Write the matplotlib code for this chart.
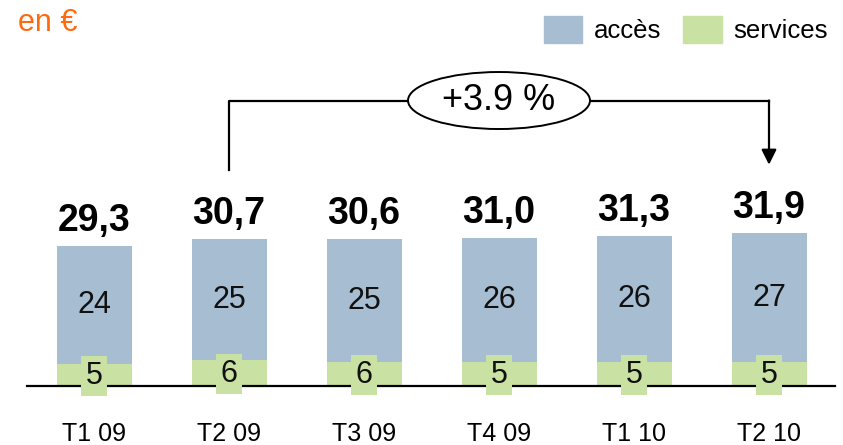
import matplotlib
matplotlib.use("Agg")
from matplotlib import pyplot as plt
from matplotlib.patches import Ellipse, Patch

plt.rcParams['font.family'] = ['Liberation Sans', 'DejaVu Sans']

# data
quarters = ["T1 09", "T2 09", "T3 09", "T4 09", "T1 10", "T2 10"]
totals = [29.3, 30.7, 30.6, 31.0, 31.3, 31.9]
services = [4.6, 5.4, 5.0, 5.0, 5.0, 5.0]
acces = [t - s for t, s in zip(totals, services)]
acces_labels = ["24", "25", "25", "26", "26", "27"]
services_labels = ["5", "6", "6", "5", "5", "5"]
total_labels = ["29,3", "30,7", "30,6", "31,0", "31,3", "31,9"]
growth_label = "+3.9 %"

blue = "#A7BDD2"
green = "#C9E1A2"
orange = "#FF6A10"

fig = plt.figure(figsize=(8.43, 4.45), dpi=100)
ax = fig.add_axes([0, 0, 1, 1])
scale = 4.79  # px per unit
ax.set_ylim(-59 / scale, 386 / scale)
ax.set_xlim(-94 / 135, (843 - 94) / 135)

x = list(range(len(quarters)))
w = 75 / 135
ax.bar(x, services, w, color=green, zorder=2)
ax.bar(x, acces, w, bottom=services, color=blue, zorder=2)

# baseline
ax.plot([-67 / 135, (835 - 94) / 135], [0, 0], color="black", lw=1.6, zorder=3)

for i in x:
    ax.text(i, services[i] + acces[i] / 2, acces_labels[i], ha="center", va="center",
            fontsize=22, color="#111111", zorder=4)
    ax.text(i, services[i] / 2 - 0.2, services_labels[i], ha="center", va="center",
            fontsize=22, color="#111111", zorder=5,
            bbox=dict(boxstyle="square,pad=0.16", fc=green, ec="none"))
    ax.annotate(total_labels[i], (i, totals[i]), xytext=(0, 5), textcoords="offset points",
                ha="center", va="bottom", fontsize=27, fontweight="bold", zorder=4)

# growth bracket from T2 09 to T2 10
i0, i1 = 1, len(quarters) - 1
gap = 14.3
top = 59.6
ax.plot([i0, i0, i1, i1], [totals[i0] + gap, top, top, top], color="black", lw=1.6, zorder=3)
ax.annotate("", xy=(i1, totals[i1] + gap), xytext=(i1, top),
            arrowprops=dict(arrowstyle="-|>,head_length=0.9,head_width=0.45",
                            color="black", lw=1.6, shrinkA=0, shrinkB=0), zorder=3)
ell = Ellipse(((i0 + i1) / 2, top), 182 / 135, 57 / scale, fc="white", ec="black", lw=1.4, zorder=4)
ax.add_patch(ell)
ax.text((i0 + i1) / 2, top, growth_label, ha="center", va="center", fontsize=26, zorder=5)

ax.spines["bottom"].set_position(("data", 0))
ax.set_xticks(x)
ax.set_xticklabels(quarters, fontsize=18)
ax.tick_params(axis="x", length=0, pad=26)
ax.set_yticks([])
for s in ax.spines.values():
    s.set_visible(False)

fig.text(18 / 843, 1 - 23 / 445, "en €", color=orange, fontsize=22, va="center", ha="left")

handles = [Patch(color=blue, label="accès"), Patch(color=green, label="services")]
fig.legend(handles=handles, loc="upper right", bbox_to_anchor=(838 / 843, 1 - 6 / 445),
           ncol=2, frameon=False, fontsize=18.5, handlelength=1.5, handleheight=1.2,
           handletextpad=0.45, columnspacing=0.85, borderaxespad=0)

fig.savefig("out.png", dpi=100)
